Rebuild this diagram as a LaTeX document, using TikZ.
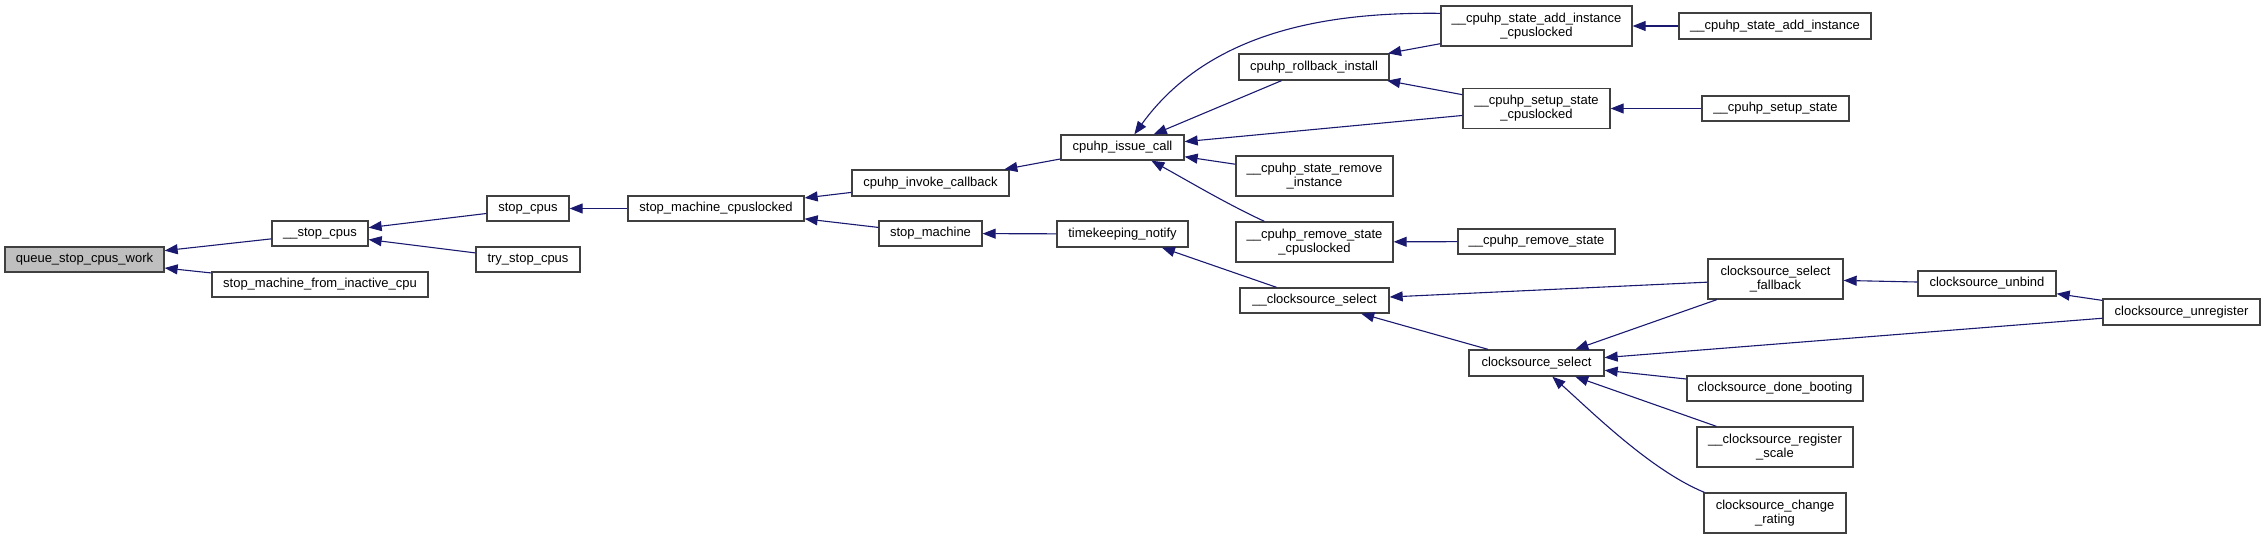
\documentclass[tikz,border=0pt]{standalone}
\usepackage{fontspec}
\setmainfont{Liberation Sans}
\usetikzlibrary{arrows.meta,calc}
\definecolor{edgeblue}{HTML}{191970}
\definecolor{boxline}{HTML}{404040}
\definecolor{hilite}{HTML}{BFBFBF}
\begin{document}
\begin{tikzpicture}[x=0.5pt,y=-0.5pt,
  fn/.style 2 args={draw=boxline,line width=0.65pt,fill=white,inner sep=0pt,
    minimum width=#1*0.5pt,minimum height=#2*0.5pt,align=center,
    font=\fontsize{6.5pt}{7pt}\selectfont},
  edge/.style={draw=edgeblue,line width=0.55pt,-{Triangle[length=6.5pt,width=5pt]}},
  gray/.style={fill=hilite}]
\useasboundingbox (0,0) rectangle (2265,539);
% nodes
\node[fn={159}{25},gray] (queue) at (84.5,259.5) {queue\_stop\_cpus\_work};
\node[fn={96}{25}] (ustopcpus) at (320,233.5) {\_\_stop\_cpus};
\node[fn={216}{25}] (smfic) at (320,284.5) {stop\_machine\_from\_inactive\_cpu};
\node[fn={82}{25}] (stopcpus) at (528,208.5) {stop\_cpus};
\node[fn={104}{25}] (trystop) at (528,259.5) {try\_stop\_cpus};
\node[fn={176}{25}] (smc) at (716,208.5) {stop\_machine\_cpuslocked};
\node[fn={157}{26}] (invoke) at (930.5,183) {cpuhp\_invoke\_callback};
\node[fn={103}{25}] (stopmachine) at (930.5,233.5) {stop\_machine};
\node[fn={123}{25}] (issue) at (1122.5,147.5) {cpuhp\_issue\_call};
\node[fn={131}{26}] (timekeeping) at (1122.5,234) {timekeeping\_notify};
\node[fn={150}{26}] (rollback) at (1314,67) {cpuhp\_rollback\_install};
\node[fn={157}{40}] (removeinst) at (1314.5,176) {\_\_cpuhp\_state\_remove\\\_instance};
\node[fn={157}{40}] (removecpl) at (1314.5,242) {\_\_cpuhp\_remove\_state\\\_cpuslocked};
\node[fn={149}{25}] (ucssel) at (1314.5,300.5) {\_\_clocksource\_select};
\node[fn={191}{40}] (addic) at (1536.5,26) {\_\_cpuhp\_state\_add\_instance\\\_cpuslocked};
\node[fn={147}{40}] (setupcpl) at (1536.5,108.5) {\_\_cpuhp\_setup\_state\\\_cpuslocked};
\node[fn={157}{25}] (removestate) at (1536.5,241.5) {\_\_cpuhp\_remove\_state};
\node[fn={135}{26}] (cssel) at (1536.5,363) {clocksource\_select};
\node[fn={192}{26}] (addinst) at (1775,26) {\_\_cpuhp\_state\_add\_instance};
\node[fn={147}{25}] (setupstate) at (1775.5,108.5) {\_\_cpuhp\_setup\_state};
\node[fn={135}{40}] (fallback) at (1775.5,279) {clocksource\_select\\\_fallback};
\node[fn={176}{25}] (donebooting) at (1775,388.5) {clocksource\_done\_booting};
\node[fn={156}{40}] (regscale) at (1775,447) {\_\_clocksource\_register\\\_scale};
\node[fn={142}{40}] (changerating) at (1775,513) {clocksource\_change\\\_rating};
\node[fn={138}{25}] (unbind) at (1987,283.5) {clocksource\_unbind};
\node[fn={157}{26}] (unregister) at (2181.5,312) {clocksource\_unregister};
% edges (caller -> callee, arrow at callee)
\draw[edge] (ustopcpus) -- (queue);
\draw[edge] (smfic) -- (queue);
\draw[edge] (stopcpus) -- (ustopcpus);
\draw[edge] (trystop) -- (ustopcpus);
\draw[edge] (smc) -- (stopcpus);
\draw[edge] (invoke) -- (smc);
\draw[edge] (stopmachine) -- (smc);
\draw[edge] (issue) -- (invoke);
\draw[edge] (timekeeping) -- (stopmachine);
\draw[edge] ($(addic.north west)+(0,8)$) .. controls (1330,12) and (1210,30) .. ($(issue.north west)+(74,0)$);
\draw[edge] (rollback) -- (issue);
\draw[edge] (setupcpl) -- (issue);
\draw[edge] (removeinst) -- (issue);
\draw[edge] ($(removecpl.north west)+(29,0)$) .. controls (1225,203) and (1190,182) .. ($(issue.south west)+(91,0)$);
\draw[edge] (addic) -- (rollback);
\draw[edge] (setupcpl) -- (rollback);
\draw[edge] (addinst) -- (addic);
\draw[edge] (setupstate) -- (setupcpl);
\draw[edge] (removestate) -- (removecpl);
\draw[edge] (ucssel) -- (timekeeping);
\draw[edge] (fallback) -- (ucssel);
\draw[edge] (cssel) -- (ucssel);
\draw[edge] (fallback) -- (cssel);
\draw[edge] (unregister) -- (cssel);
\draw[edge] (donebooting) -- (cssel);
\draw[edge] (regscale) -- (cssel);
\draw[edge] ($(changerating.north west)+(1,0)$) .. controls (1650,470) and (1590,410) .. ($(cssel.south west)+(84,0)$);
\draw[edge] (unbind) -- (fallback);
\draw[edge] (unregister) -- (unbind);
\end{tikzpicture}
\end{document}
